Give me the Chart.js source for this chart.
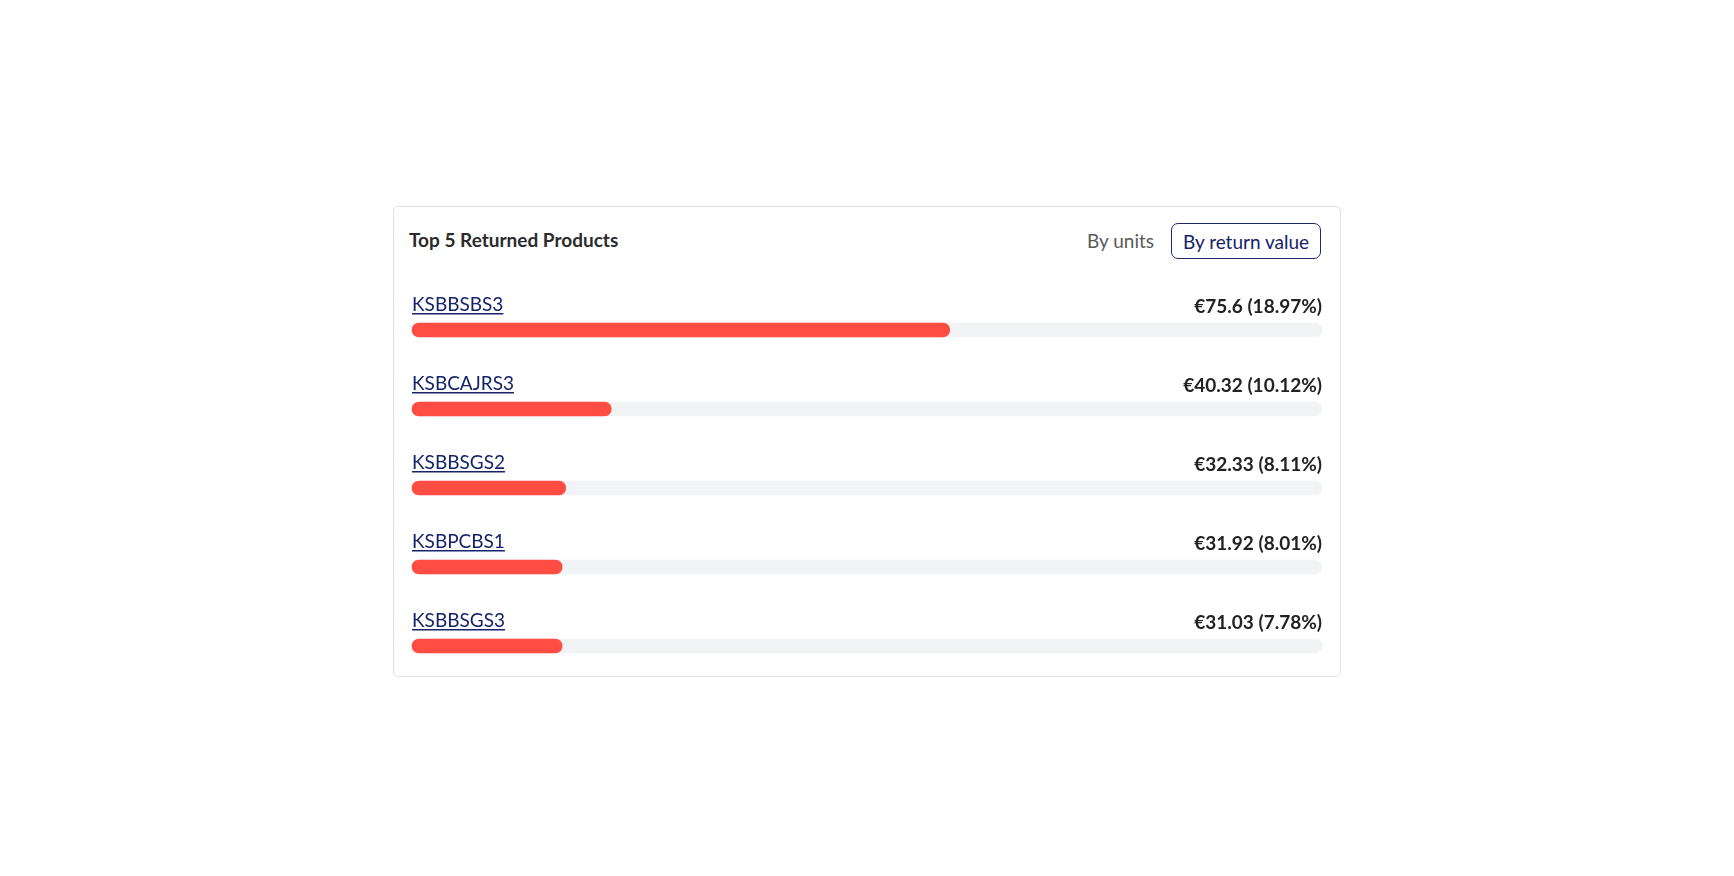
<!DOCTYPE html>
<html>
<head>
<meta charset="utf-8">
<script src="https://cdn.jsdelivr.net/npm/chart.js@4"></script>
<style>
  html, body { margin: 0; padding: 0; background: #ffffff; }
  body { width: 1734px; height: 876px; position: relative; overflow: hidden; font-family: Lato, "Noto Sans", sans-serif; }
  #card { position: absolute; left: 393px; top: 206px; width: 948px; height: 471px; box-sizing: border-box;
          border: 1.5px solid #e0e2e5; border-radius: 5px; background: #fff; }
  .t { position: absolute; white-space: nowrap; line-height: 1.2; }
  #title { left: 409px; top: 229px; font-size: 19px; font-weight: 700; color: #2b2b2b; }
  #units { left: 1087px; top: 230px; font-size: 19px; color: #5a5a5a; }
  #btn { position: absolute; left: 1171px; top: 223px; width: 150px; height: 36px; box-sizing: border-box;
         border: 1.5px solid #1b2a6b; border-radius: 7px; color: #14236a; font-size: 19px;
         display: flex; align-items: center; justify-content: center; }
  #chartWrap { position: absolute; left: 393px; top: 280px; width: 948px; height: 400px; }
</style>
</head>
<body>
<div id="card"></div>
<div class="t" id="title">Top 5 Returned Products</div>
<div class="t" id="units">By units</div>
<div id="btn">By return value</div>
<div id="chartWrap"><canvas id="c" width="948" height="400"></canvas></div>
<script>
const products = ['KSBBSBS3', 'KSBCAJRS3', 'KSBBSGS2', 'KSBPCBS1', 'KSBBSGS3'];
const returnValues = [75.6, 40.32, 32.33, 31.92, 31.03];
const returnShares = [18.97, 10.12, 8.11, 8.01, 7.78];
// bar length as a percentage of the track
const barFill = [59.1, 21.9, 16.9, 16.5, 16.5];
const trackFull = [100, 100, 100, 100, 100];

const labelPlugin = {
  id: 'rowLabels',
  afterDatasetsDraw(chart) {
    const ctx = chart.ctx;
    const yScale = chart.scales.y;
    const area = chart.chartArea;
    ctx.save();
    products.forEach((name, i) => {
      const yc = yScale.getPixelForValue(i);
      const barTop = yc - 7;
      ctx.font = '19px Lato';
      ctx.fillStyle = '#14236a';
      ctx.textAlign = 'left';
      ctx.textBaseline = 'alphabetic';
      const ly = barTop - 12;
      ctx.fillText(name, area.left, ly);
      const w = ctx.measureText(name).width;
      ctx.fillRect(area.left, ly + 2, w, 1.5);
      ctx.font = 'bold 19px Lato';
      ctx.fillStyle = '#222222';
      ctx.textAlign = 'right';
      ctx.fillText('€' + returnValues[i] + ' (' + returnShares[i].toFixed(2) + '%)', area.right, barTop - 10);
    });
    ctx.restore();
  }
};

new Chart(document.getElementById('c'), {
  type: 'bar',
  data: {
    labels: products,
    datasets: [
      { data: barFill, backgroundColor: '#ff4d44', barThickness: 14, borderRadius: 7, borderSkipped: false, grouped: false, clip: false },
      { data: trackFull, backgroundColor: '#f2f3f5', barThickness: 14, borderRadius: 7, borderSkipped: false, grouped: false, clip: false }
    ]
  },
  options: {
    indexAxis: 'y',
    responsive: false,
    animation: false,
    devicePixelRatio: 1,
    layout: { padding: { left: 19, right: 19, top: 50, bottom: 34 } },
    scales: {
      x: { display: false, min: 0, max: 100 },
      y: { display: false, offset: false }
    },
    plugins: { legend: { display: false }, tooltip: { enabled: false } }
  },
  plugins: [labelPlugin]
});
</script>
</body>
</html>
